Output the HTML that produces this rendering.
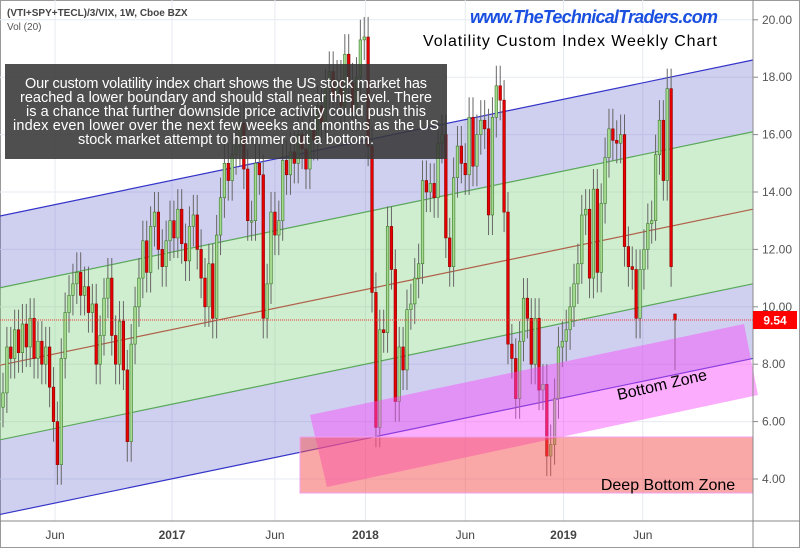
<!DOCTYPE html>
<html><head><meta charset="utf-8"><style>
html,body{margin:0;padding:0;background:#fff;}
svg{display:block;font-family:"Liberation Sans",sans-serif;}
</style></head><body>
<svg id="chart" width="800" height="548" viewBox="0 0 800 548" xmlns="http://www.w3.org/2000/svg">
<rect x="0.5" y="0.5" width="799" height="547" fill="#fff" stroke="#999"/>
<g id="grid"></g>
<g id="channel"></g>
<g id="candles"></g>
<g id="zones"></g>
<g id="axes"></g>
<text x="7" y="16" font-size="10" font-weight="bold" fill="#444">(VTI+SPY+TECL)/3/VIX, 1W, Cboe BZX</text>
<text x="7" y="30" font-size="10" fill="#555">Vol (20)</text>
<text x="594" y="23" text-anchor="middle" font-size="18" font-weight="bold" font-style="italic" fill="#1a4fe0" textLength="248">www.TheTechnicalTraders.com</text>
<text x="570" y="46" text-anchor="middle" font-size="16" fill="#000" textLength="294">Volatility Custom Index Weekly Chart</text>
<g>
<rect x="5" y="64" width="442" height="95" fill="rgba(55,55,55,0.88)"/>
<g font-size="14.5" fill="#fff" text-anchor="middle">
<text x="226" y="88" textLength="402">Our custom volatility index chart shows the US stock market has</text>
<text x="226" y="102" textLength="412">reached a lower boundary and should stall near this level.  There</text>
<text x="226" y="116" textLength="400">is a chance that further downside price activity could push this</text>
<text x="226" y="130" textLength="426">index even lower over the next few weeks and months as the US</text>
<text x="226" y="144" textLength="296">stock market attempt to hammer out a bottom.</text>
</g></g>
<script>
const yTicks=[4,6,8,10,12,14,16,18,20];
const xTickLabels=["Jun","2017","Jun","2018","Jun","2019","Jun"];
const xTickWeeks=[13.4,43.5,70,93.3,119,144.3,164.7];
const closes=[7.0,8.6,8.2,9.2,8.4,9.4,8.6,9.6,8.2,8.8,8.0,8.6,7.2,6.0,4.5,8.2,9.8,10.4,10.8,11.2,10.4,10.7,9.8,10.1,8.0,9.0,10.3,11.0,9.0,8.0,9.5,7.8,5.3,8.7,10.0,11.0,12.3,11.2,12.8,13.3,12.0,11.4,12.3,13.0,12.4,13.4,12.2,11.6,12.8,13.2,12.0,11.0,10.0,11.5,9.6,12.5,13.8,15.0,14.4,15.3,15.6,16.4,
14.8,13.0,13.0,15.0,14.6,9.6,10.8,13.3,12.5,13.0,15.1,14.6,15.4,15.0,16.0,15.5,14.8,16.2,15.8,17.0,16.4,17.6,18.2,17.3,17.9,17.0,18.8,17.8,16.8,18.0,19.3,19.4,15.6,10.5,5.8,9.2,9.1,12.8,11.3,6.7,8.6,7.8,9.9,10.1,11.0,11.5,14.4,14.0,14.3,13.8,15.7,16.0,12.4,11.4,14.5,15.6,15.0,14.6,16.6,14.9,16.0,16.5,16.2,13.2,
16.6,17.7,17.2,13.3,8.7,8.2,6.8,8.8,10.3,9.6,8.0,9.6,7.1,7.3,4.8,5.2,6.8,8.6,8.8,9.2,10.0,10.8,11.5,13.2,13.4,11.0,14.1,11.2,13.6,15.2,16.2,15.8,15.7,16.0,12.1,11.4,11.3,9.6,11.3,12.0,12.9,13.0,15.3,16.5,14.4,17.6,11.4,9.54];
const lastOpen=[9.75];
const lastLow=[7.8];
const channelRight=[18.6,16.1,13.4,10.8,8.2];
const lastPrice=[9.54];
const NS="http://www.w3.org/2000/svg";
const PL=0,PR=753,PB=521;
function yS(v){return 479-(v-4)*28.7;}
function xS(i){return 3+i*(672/(closes.length-1));}
function mk(t,a,p){const e=document.createElementNS(NS,t);for(const k in a)e.setAttribute(k,a[k]);p.appendChild(e);return e;}
const grid=document.getElementById('grid'),axes=document.getElementById('axes'),ch=document.getElementById('channel'),cg=document.getElementById('candles'),zn=document.getElementById('zones');
yTicks.forEach(v=>{const l=mk('line',{x1:PL,x2:PR,y1:yS(v),y2:yS(v),stroke:'#e6eaf0','stroke-width':1},grid);


const t=mk('text',{x:762,y:yS(v)+4,'font-size':12,fill:'#555'},axes);t.textContent=v.toFixed(2);


mk('line',{x1:PR,x2:PR+5,y1:yS(v),y2:yS(v),stroke:'#888'},axes);});
xTickWeeks.forEach((w,i)=>{const x=xS(w);const l=mk('line',{x1:x,x2:x,y1:0,y2:PB,stroke:'#e6eaf0'},grid);


const t=mk('text',{x:x,y:539,'font-size':12,'text-anchor':'middle',fill:'#444','font-weight':(xTickLabels[i]==='Jun'?'normal':'bold')},axes);t.textContent=xTickLabels[i];

});
mk('line',{x1:PR,x2:PR,y1:0,y2:548,stroke:'#888'},axes);
mk('line',{x1:0,x2:800,y1:PB,y2:PB,stroke:'#888'},axes);
const drop=156;
const ys=channelRight.map(v=>yS(v));
const fills=['rgba(110,110,210,0.33)','rgba(130,210,130,0.38)','rgba(130,210,130,0.38)','rgba(110,110,210,0.33)'];
for(let k=0;k<4;k++){const p=mk('polygon',{points:`0,${ys[k]+drop} ${PR},${ys[k]} ${PR},${ys[k+1]} 0,${ys[k+1]+drop}`,fill:fills[k]},ch);

}
const lc=['#3434c8','#5aa85a','#b06048','#5aa85a','#3434c8'];
ys.forEach((y,k)=>{const l=mk('line',{x1:0,y1:y+drop,x2:PR,y2:y,stroke:lc[k],'stroke-width':1.2},ch);

});
const w=2.6;
const N=closes.length;
closes.forEach((c,i)=>{let o=i?closes[i-1]:c-0.5;if(i===N-1)o=lastOpen[0];let hi=Math.max(o,c)+0.7,lo=Math.min(o,c)-0.7;if(i===N-1){hi=Math.max(o,c);lo=lastLow[0];}const x=xS(i);
const g=mk('g',{},cg);


mk('line',{x1:x,x2:x,y1:yS(hi),y2:yS(lo),stroke:'#666','stroke-width':1},g);
const up=c>=o;const top=yS(Math.max(o,c)),bot=yS(Math.min(o,c));
mk('rect',{x:x-w/2,y:top,width:w,height:Math.max(1.5,bot-top),fill:up?'#a4d98f':'#e80000',stroke:up?'#3c7a2c':'#800','stroke-width':0.6},g);});
const bz=mk('polygon',{points:'310,415 744,324 758,395 327,487',fill:'rgba(248,70,248,0.45)'},zn);


const dz=mk('rect',{x:300,y:437,width:453,height:56,fill:'rgba(245,80,80,0.5)',stroke:'#f0a0f0','stroke-width':1},zn);


const bt=mk('text',{x:662,y:390,'font-size':16,'text-anchor':'middle',fill:'#000',transform:'rotate(-13 662 385)'},zn);bt.textContent='Bottom Zone';


const dt=mk('text',{x:668,y:490,'font-size':16,'text-anchor':'middle',fill:'#000'},zn);dt.textContent='Deep Bottom Zone';


const py=yS(lastPrice[0]);
const pl=mk('line',{x1:0,x2:PR,y1:py,y2:py,stroke:'#e33','stroke-width':1,'stroke-dasharray':'1,1'},axes);


const pb=mk('rect',{x:PR,y:py-9,width:44,height:18,fill:'#f00'},axes);


const pt=mk('text',{x:775,y:py+4.5,'font-size':12,'font-weight':'bold','text-anchor':'middle',fill:'#fff'},axes);pt.textContent=lastPrice[0].toFixed(2);


</script>
</svg>
</body></html>
